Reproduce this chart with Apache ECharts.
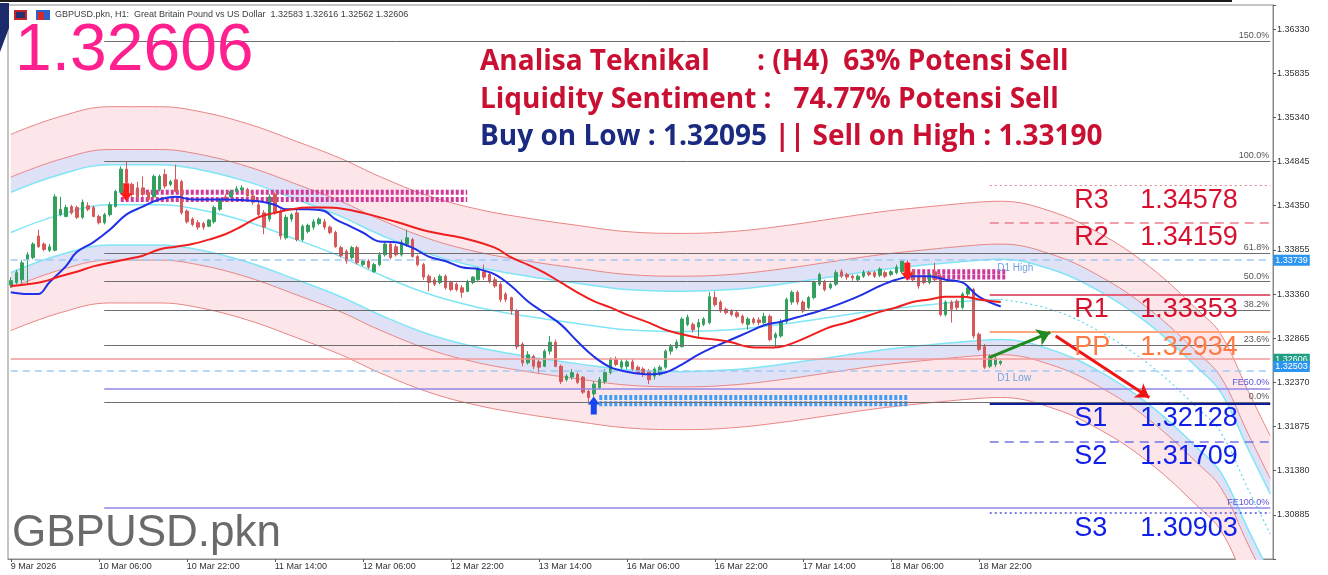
<!DOCTYPE html>
<html>
<head>
<meta charset="utf-8">
<script src="https://cdn.jsdelivr.net/npm/echarts@6/dist/echarts.min.js"></script>
<style>
  html, body { margin: 0; padding: 0; background: #fff; }
  #chart { width: 1328px; height: 575px; }
</style>
</head>
<body>
<div id="chart"></div>
<script>
// H1 candles, bar 0 = 9 Mar 14:00, [open, close, low, high]
var candles = [
  [1.3346,1.3351,1.3343,1.3355],[1.3349,1.3360,1.3347,1.3363],[1.3352,1.3371,1.3348,1.3374],[1.3375,1.3380,1.3347,1.3383],
  [1.3377,1.3392,1.3375,1.3394],[1.3401,1.3389,1.3388,1.3408],[1.3392,1.3386,1.3384,1.3394],[1.3385,1.3389,1.3383,1.3392],
  [1.3385,1.3445,1.3384,1.3448],[1.3425,1.3431,1.3423,1.3445],[1.3423,1.3433,1.3422,1.3436],[1.3434,1.3427,1.3425,1.3436],
  [1.3433,1.3422,1.3420,1.3435],[1.3422,1.3439,1.3420,1.3442],[1.3435,1.3431,1.3429,1.3439],[1.3433,1.3423,1.3422,1.3435],
  [1.3423,1.3416,1.3414,1.3425],[1.3416,1.3425,1.3414,1.3427],[1.3425,1.3436,1.3423,1.3439],[1.3434,1.3451,1.3433,1.3453],
  [1.3450,1.3476,1.3448,1.3479],[1.3476,1.3461,1.3459,1.3485],[1.3459,1.3448,1.3445,1.3461],[1.3455,1.3445,1.3442,1.3462],
  [1.3455,1.3448,1.3445,1.3468],[1.3450,1.3442,1.3441,1.3453],[1.3445,1.3468,1.3444,1.3470],[1.3453,1.3468,1.3451,1.3470],
  [1.3470,1.3457,1.3454,1.3476],[1.3459,1.3462,1.3457,1.3464],[1.3464,1.3451,1.3450,1.3481],[1.3462,1.3427,1.3425,1.3464],
  [1.3429,1.3417,1.3415,1.3431],[1.3420,1.3414,1.3412,1.3422],[1.3416,1.3411,1.3408,1.3419],[1.3415,1.3411,1.3408,1.3417],
  [1.3412,1.3419,1.3411,1.3420],[1.3417,1.3433,1.3415,1.3435],[1.3431,1.3442,1.3429,1.3444],[1.3445,1.3441,1.3439,1.3448],
  [1.3445,1.3451,1.3444,1.3453],[1.3451,1.3454,1.3450,1.3457],[1.3453,1.3455,1.3451,1.3458],[1.3453,1.3446,1.3445,1.3455],
  [1.3446,1.3439,1.3436,1.3448],[1.3436,1.3425,1.3423,1.3439],[1.3427,1.3411,1.3403,1.3430],[1.3420,1.3445,1.3417,1.3448],
  [1.3448,1.3427,1.3425,1.3450],[1.3429,1.3401,1.3397,1.3431],[1.3399,1.3422,1.3397,1.3425],[1.3420,1.3425,1.3417,1.3427],
  [1.3427,1.3397,1.3395,1.3431],[1.3397,1.3412,1.3395,1.3414],[1.3406,1.3413,1.3404,1.3415],[1.3411,1.3417,1.3408,1.3420],
  [1.3415,1.3420,1.3413,1.3422],[1.3417,1.3411,1.3408,1.3420],[1.3411,1.3405,1.3403,1.3413],[1.3405,1.3389,1.3388,1.3407],
  [1.3388,1.3379,1.3377,1.3390],[1.3384,1.3373,1.3370,1.3386],[1.3377,1.3388,1.3375,1.3390],[1.3388,1.3371,1.3369,1.3390],
  [1.3369,1.3373,1.3367,1.3375],[1.3373,1.3366,1.3364,1.3375],[1.3361,1.3369,1.3360,1.3371],[1.3369,1.3380,1.3367,1.3383],
  [1.3380,1.3392,1.3378,1.3394],[1.3392,1.3377,1.3375,1.3394],[1.3389,1.3380,1.3378,1.3392],[1.3380,1.3394,1.3378,1.3397],
  [1.3392,1.3399,1.3389,1.3408],[1.3397,1.3378,1.3377,1.3399],[1.3378,1.3369,1.3367,1.3380],[1.3369,1.3355,1.3352,1.3371],
  [1.3356,1.3349,1.3339,1.3358],[1.3352,1.3347,1.3345,1.3355],[1.3349,1.3356,1.3347,1.3358],[1.3356,1.3343,1.3341,1.3358],
  [1.3349,1.3341,1.3339,1.3351],[1.3347,1.3341,1.3339,1.3349],[1.3343,1.3338,1.3332,1.3346],[1.3339,1.3350,1.3338,1.3352],
  [1.3349,1.3355,1.3347,1.3356],[1.3352,1.3364,1.3351,1.3366],[1.3361,1.3355,1.3352,1.3369],[1.3358,1.3350,1.3348,1.3360],
  [1.3352,1.3345,1.3343,1.3355],[1.3347,1.3330,1.3327,1.3349],[1.3336,1.3330,1.3327,1.3338],[1.3332,1.3317,1.3313,1.3333],
  [1.3317,1.3277,1.3274,1.3319],[1.3280,1.3259,1.3255,1.3282],[1.3259,1.3268,1.3257,1.3272],[1.3266,1.3255,1.3252,1.3268],
  [1.3260,1.3254,1.3248,1.3263],[1.3255,1.3272,1.3254,1.3274],[1.3272,1.3282,1.3268,1.3289],[1.3282,1.3255,1.3254,1.3285],
  [1.3255,1.3238,1.3235,1.3257],[1.3240,1.3244,1.3238,1.3246],[1.3243,1.3248,1.3240,1.3252],[1.3246,1.3237,1.3235,1.3248],
  [1.3243,1.3226,1.3224,1.3244],[1.3227,1.3220,1.3215,1.3229],[1.3224,1.3235,1.3221,1.3238],[1.3231,1.3240,1.3229,1.3243],
  [1.3238,1.3248,1.3235,1.3252],[1.3248,1.3263,1.3246,1.3265],[1.3263,1.3257,1.3255,1.3266],[1.3254,1.3260,1.3252,1.3263],
  [1.3255,1.3260,1.3252,1.3263],[1.3260,1.3252,1.3250,1.3263],[1.3254,1.3248,1.3246,1.3256],[1.3252,1.3246,1.3243,1.3254],
  [1.3250,1.3240,1.3235,1.3252],[1.3244,1.3252,1.3240,1.3254],[1.3246,1.3254,1.3244,1.3256],[1.3254,1.3272,1.3252,1.3274],
  [1.3272,1.3277,1.3268,1.3280],[1.3276,1.3282,1.3274,1.3285],[1.3277,1.3308,1.3276,1.3310],[1.3302,1.3310,1.3300,1.3313],
  [1.3302,1.3296,1.3293,1.3304],[1.3299,1.3304,1.3287,1.3308],[1.3302,1.3308,1.3300,1.3310],[1.3304,1.3333,1.3302,1.3338],
  [1.3332,1.3324,1.3322,1.3339],[1.3327,1.3317,1.3315,1.3329],[1.3319,1.3315,1.3313,1.3321],[1.3317,1.3313,1.3311,1.3319],
  [1.3315,1.3311,1.3309,1.3318],[1.3311,1.3304,1.3302,1.3313],[1.3302,1.3308,1.3296,1.3310],[1.3308,1.3304,1.3302,1.3310],
  [1.3307,1.3304,1.3301,1.3310],[1.3304,1.3311,1.3302,1.3315],[1.3311,1.3285,1.3283,1.3313],[1.3287,1.3291,1.3276,1.3293],
  [1.3289,1.3305,1.3287,1.3308],[1.3305,1.3330,1.3303,1.3332],[1.3327,1.3338,1.3324,1.3340],[1.3338,1.3327,1.3324,1.3340],
  [1.3327,1.3317,1.3315,1.3329],[1.3321,1.3332,1.3319,1.3334],[1.3332,1.3349,1.3330,1.3351],[1.3347,1.3358,1.3345,1.3360],
  [1.3350,1.3341,1.3339,1.3352],[1.3343,1.3347,1.3341,1.3349],[1.3347,1.3360,1.3345,1.3363],[1.3361,1.3356,1.3354,1.3364],
  [1.3358,1.3355,1.3352,1.3360],[1.3356,1.3354,1.3351,1.3358],[1.3352,1.3356,1.3350,1.3358],[1.3356,1.3360,1.3354,1.3363],
  [1.3360,1.3358,1.3356,1.3362],[1.3360,1.3356,1.3354,1.3362],[1.3357,1.3364,1.3355,1.3366],[1.3360,1.3356,1.3354,1.3362],
  [1.3358,1.3361,1.3356,1.3363],[1.3360,1.3366,1.3358,1.3369],[1.3361,1.3373,1.3359,1.3375],[1.3371,1.3358,1.3356,1.3374],
  [1.3361,1.3352,1.3350,1.3364],[1.3356,1.3345,1.3342,1.3358],[1.3356,1.3349,1.3347,1.3358],[1.3349,1.3358,1.3347,1.3360],
  [1.3361,1.3352,1.3350,1.3371],[1.3356,1.3313,1.3311,1.3358],[1.3313,1.3327,1.3311,1.3329],[1.3327,1.3319,1.3304,1.3329],
  [1.3328,1.3321,1.3317,1.3330],[1.3321,1.3336,1.3319,1.3338],[1.3336,1.3343,1.3333,1.3346],[1.3341,1.3289,1.3286,1.3343],
  [1.3291,1.3274,1.3272,1.3293],[1.3277,1.3254,1.3252,1.3280],[1.3255,1.3266,1.3253,1.3268],[1.3257,1.3264,1.3254,1.3267],
  [1.32583,1.32606,1.32562,1.32616]
];
var barCount = 230; // candles + empty shift area on the right

var timeLabels = ['9 Mar 2026', '10 Mar 06:00', '10 Mar 22:00', '11 Mar 14:00', '12 Mar 06:00', '12 Mar 22:00',
                  '13 Mar 14:00', '16 Mar 06:00', '16 Mar 22:00', '17 Mar 14:00', '18 Mar 06:00', '18 Mar 22:00'];
var labelBars = [0, 16, 32, 48, 64, 80, 96, 112, 128, 144, 160, 176];
var priceTicks = ['1.36330', '1.35835', '1.35340', '1.34845', '1.34350', '1.33855', '1.33360',
                  '1.32865', '1.32370', '1.31875', '1.31380', '1.30885'];

// moving averages, [bar, price]
var maFast = [[0,1.3338],[3,1.3336],[5,1.3336],[7,1.3349],[10,1.3367],[12,1.3383],[15,1.3394],[18,1.3408],
  [21,1.3425],[24,1.3434],[27,1.3442],[30,1.3445],[33,1.3442],[39,1.3442],[45,1.3440],[48,1.3436],[50,1.3431],
  [54,1.3431],[57,1.3429],[59,1.3420],[61,1.3414],[64,1.3405],[67,1.3395],[70,1.3394],[73,1.3388],[76,1.3378],
  [79,1.3373],[82,1.3366],[85,1.3364],[88,1.3358],[91,1.3345],[94,1.3328],[97,1.3315],[100,1.3302],[103,1.3283],
  [106,1.3266],[109,1.3254],[112,1.3249],[116,1.3246],[119,1.3248],[122,1.3257],[125,1.3268],[128,1.3277],
  [131,1.3285],[134,1.3293],[137,1.3301],[140,1.3305],[143,1.3310],[146,1.3315],[149,1.3321],[152,1.3328],
  [155,1.3336],[158,1.3345],[161,1.3352],[164,1.3356],[167,1.3356],[170,1.3352],[173,1.3349],[176,1.3333],[180,1.3322]];
var maSlow = [[0,1.3345],[3,1.3347],[6,1.3350],[9,1.3356],[12,1.3361],[15,1.3367],[18,1.3371],[21,1.3375],
  [24,1.3379],[27,1.3386],[30,1.3389],[33,1.3392],[36,1.3397],[39,1.3403],[42,1.3412],[45,1.3422],[48,1.3427],
  [51,1.3431],[54,1.3433],[57,1.3433],[60,1.3432],[64,1.3427],[70,1.3417],[76,1.3406],[82,1.3399],[88,1.3388],
  [91,1.3377],[94,1.3369],[97,1.3360],[100,1.3349],[103,1.3338],[106,1.3328],[109,1.3321],[112,1.3313],[116,1.3304],
  [119,1.3296],[122,1.3291],[125,1.3287],[128,1.3285],[131,1.3282],[134,1.3277],[137,1.3276],[140,1.3277],
  [143,1.3283],[146,1.3291],[149,1.3299],[152,1.3304],[155,1.3310],[158,1.3316],[161,1.3321],[164,1.3327],
  [167,1.3330],[170,1.3333],[173,1.3333],[176,1.3330],[180,1.3327]];

// regression channel middle line and band distances
var channelMid = [[0,1.3405],[9,1.3425],[18,1.3436],[27,1.3436],[34,1.3431],[43,1.3417],[52,1.3397],[60,1.3378],
  [67,1.3358],[76,1.3336],[85,1.3321],[94,1.3311],[103,1.3303],[112,1.3296],[122,1.3294],[131,1.3296],[140,1.3302],
  [149,1.3310],[158,1.3318],[167,1.3324],[176,1.3329],[180,1.3330],[189,1.3319],[198,1.3294],[207,1.3257],
  [216,1.3207],[220,1.3181],[225,1.3117],[229,1.3067]];
var channelCyanOff = 0.0045;
var channelInnerOff = 0.0062;
var channelOuterOff = 0.0110;

var fibLevels = [1.36193, 1.34849, 1.33817, 1.33498, 1.33179, 1.32785, 1.32147];
var fibNames = ['150.0%', '100.0%', '61.8%', '50.0%', '38.2%', '23.6%', '0.0%'];
var feLevels = [1.32303, 1.30959];
var feNames = ['FE50.0%', 'FE100.0%'];
var pivotNames = ['R3', 'R2', 'R1', 'PP', 'S1', 'S2', 'S3'];
var pivotValues = [1.34578, 1.34159, 1.33353, 1.32934, 1.32128, 1.31709, 1.30903];
var d1High = 1.33739;
var d1Low = 1.32503;
var lastPrice = 1.32606;
var askPrice = 1.32640;

var sellZoneA = { from: 20, to: 83, prices: [1.3450, 1.3442] };
var sellZoneB = { from: 163, to: 181, prices: [1.3361, 1.3355] };
var buyZone = { from: 107, to: 163, prices: [1.3220, 1.3213] };
var sellArrows = [[21, 1.3450], [163, 1.3361]];
var buyArrows = [[106, 1.3211]];
var upMove = [[178, 1.3265], [189, 1.3293]];
var downMove = [[190, 1.3289], [207, 1.3220]];

// ---------------------------------------------------------------
var cats = [];
for (var i = 0; i < barCount; i++) cats.push(String(i));

function shifted(points, d) {
  return points.map(function (p) { return [p[0], +(p[1] + d).toFixed(5)]; });
}
function thickness(points, d) {
  return points.map(function (p) { return [p[0], d]; });
}

var PINK = '#fde6e9', LAV = '#dfe1f7', RED_LINE = '#e88585', CYAN = '#7fe6f6';
var FONT = '"Liberation Sans", Arial, sans-serif';
var HEAD = 'bold 28px "Open Sans"';

var series = [];

function band(name, base, h, fill) {
  series.push({ type: 'line', stack: name, data: base, smooth: 0.4, symbol: 'none', silent: true, z: 1,
                lineStyle: { opacity: 0 } });
  series.push({ type: 'line', stack: name, data: thickness(base, h), smooth: 0.4, symbol: 'none', silent: true, z: 1,
                lineStyle: { opacity: 0 }, areaStyle: { color: fill, opacity: 1 } });
}
function curve(data, color, w, type, z) {
  series.push({ type: 'line', data: data, smooth: 0.4, symbol: 'none', silent: true, z: z || 2,
                lineStyle: { color: color, width: w, type: type || 'solid' } });
}

// channel fills
band('upPink', shifted(channelMid, channelInnerOff), channelOuterOff - channelInnerOff, PINK);
band('upLav', shifted(channelMid, channelCyanOff), channelInnerOff - channelCyanOff, LAV);
band('loLav', shifted(channelMid, -channelInnerOff), channelInnerOff - channelCyanOff, LAV);
band('loPink', shifted(channelMid, -channelOuterOff), channelOuterOff - channelInnerOff, PINK);
// channel lines
curve(shifted(channelMid, channelOuterOff), RED_LINE, 1);
curve(shifted(channelMid, channelInnerOff), RED_LINE, 1);
curve(shifted(channelMid, channelCyanOff), CYAN, 1.5);
curve(shifted(channelMid, -channelCyanOff), CYAN, 1.5);
curve(shifted(channelMid, -channelInnerOff), RED_LINE, 1);
curve(shifted(channelMid, -channelOuterOff), RED_LINE, 1);
curve(channelMid.filter(function (p) { return p[0] <= 180; }), CYAN, 1.5);
curve(channelMid.filter(function (p) { return p[0] >= 180; }), '#5fd8ee', 1.2, [2, 3]);

// horizontal levels
var levelLines = [];
fibLevels.forEach(function (v, k) {
  levelLines.push([{ coord: [17, v], lineStyle: { color: '#6e6e6e', width: 1, type: 'solid' },
                     label: { show: true, position: 'insideEndTop', formatter: fibNames[k], color: '#555',
                              fontSize: 9, fontFamily: FONT, distance: 1 } },
                   { coord: [barCount - 1, v] }]);
});
feLevels.forEach(function (v, k) {
  levelLines.push([{ coord: [17, v], lineStyle: { color: '#8f87e6', width: 1.5, type: 'solid' },
                     label: { show: true, position: 'insideEndTop', formatter: feNames[k], color: '#5b55d8',
                              fontSize: 9, fontFamily: FONT, distance: 1 } },
                   { coord: [barCount - 1, v] }]);
});
levelLines.push([{ coord: [0, askPrice], lineStyle: { color: '#f29a9a', width: 1.5, type: 'solid' } },
                 { coord: [barCount - 1, askPrice] }]);
levelLines.push([{ coord: [0, d1High], lineStyle: { color: '#9fcaf4', width: 1.5, type: [7, 5] },
                   label: { show: true, position: 'end', formatter: d1High.toFixed(5), color: '#fff',
                            backgroundColor: '#2b95f0', padding: [1, 2], fontSize: 9, fontFamily: FONT, distance: 3 } },
                 { coord: [barCount - 1, d1High] }]);
levelLines.push([{ coord: [0, lastPrice], lineStyle: { color: 'rgba(0,0,0,0)', width: 1 },
                   label: { show: true, position: 'end', formatter: lastPrice.toFixed(5), color: '#fff',
                            backgroundColor: '#1f9e84', padding: [1, 2], fontSize: 9, fontFamily: FONT, distance: 3,
                            offset: [0, -2] } },
                 { coord: [barCount - 1, lastPrice] }]);
levelLines.push([{ coord: [0, d1Low], lineStyle: { color: '#9fcaf4', width: 1.5, type: [7, 5] },
                   label: { show: true, position: 'end', formatter: d1Low.toFixed(5), color: '#fff',
                            backgroundColor: '#2b95f0', padding: [1, 2], fontSize: 9, fontFamily: FONT, distance: 3,
                            offset: [0, -4] } },
                 { coord: [barCount - 1, d1Low] }]);

var pivotStyles = [
  { color: '#ea7f8f', width: 1.2, type: [2, 3] },
  { color: '#ea7f8f', width: 1.5, type: [9, 6] },
  { color: '#e2627a', width: 2, type: 'solid' },
  { color: '#ffa37a', width: 2, type: 'solid' },
  { color: '#0c1a9c', width: 2, type: 'solid' },
  { color: '#7373e6', width: 1.5, type: [9, 6] },
  { color: '#5050e6', width: 1.5, type: [2, 3] }
];
var pivotColors = ['#d8102f', '#d8102f', '#d8102f', '#ff7a45', '#1020e8', '#1020e8', '#1020e8'];
pivotValues.forEach(function (v, k) {
  levelLines.push([{ coord: [178, v], lineStyle: pivotStyles[k] }, { coord: [barCount - 1, v] }]);
});

series.push({
  type: 'line', data: [], silent: true, z: 2,
  markLine: { symbol: 'none', silent: true, animation: false, data: levelLines }
});

// zones
function zone(z, color) {
  z.prices.forEach(function (p) {
    series.push({ type: 'line', data: [[z.from, p], [z.to, p]], symbol: 'none', silent: true, z: 3,
                  lineStyle: { color: color, width: 5, type: [3, 2] } });
  });
}
zone(sellZoneA, '#cf3a9a');
zone(sellZoneB, '#cf3a9a');
zone(buyZone, '#3f9df5');

// candles
series.push({
  type: 'candlestick', data: candles, z: 4, barWidth: 3,
  itemStyle: { color: '#33a05e', color0: '#d65858', borderColor: '#33a05e', borderColor0: '#d65858', borderWidth: 1 }
});

// moving averages
curve(maFast, '#1f30e6', 2, 'solid', 5);
curve(maSlow, '#f01e1e', 2, 'solid', 5);

// signal arrows
series.push({ type: 'scatter', data: sellArrows, z: 6, silent: true,
  symbol: 'path://M3,0 H9 V10 H12 L6,18 L0,10 H3 Z', symbolSize: [12, 18], itemStyle: { color: '#ff1a1a', opacity: 1 } });
series.push({ type: 'scatter', data: buyArrows, z: 6, silent: true,
  symbol: 'path://M6,0 L12,8 H9 V18 H3 V8 H0 Z', symbolSize: [12, 18], itemStyle: { color: '#1646f0', opacity: 1 } });

// forecast arrows
series.push({
  type: 'line', data: [], silent: true, z: 6,
  markLine: { silent: true, animation: false, symbol: ['none', 'arrow'], symbolSize: 13,
    data: [
      [{ coord: upMove[0], lineStyle: { color: '#1f8a1f', width: 3, type: 'solid' } }, { coord: upMove[1] }],
      [{ coord: downMove[0], lineStyle: { color: '#f01515', width: 3, type: 'solid' } }, { coord: downMove[1] }]
    ] }
});

// pivot and D1 texts
var texts = [];
pivotValues.forEach(function (v, k) {
  texts.push({ value: [193, v], label: { formatter: pivotNames[k], color: pivotColors[k] } });
  texts.push({ value: [205, v], label: { formatter: v.toFixed(5), color: pivotColors[k] } });
});
series.push({
  type: 'scatter', data: texts, symbolSize: 0, silent: true, z: 7, itemStyle: { opacity: 1 },
  label: { show: true, position: 'right', distance: 2, offset: [0, 15], fontSize: 27, fontFamily: FONT,
           opacity: 1, textBorderWidth: 0 }
});
series.push({
  type: 'scatter', silent: true, z: 7, symbolSize: 0, itemStyle: { opacity: 1 },
  data: [
    { value: [179, d1High], label: { formatter: 'D1 High' } },
    { value: [179, d1Low], label: { formatter: 'D1 Low' } }
  ],
  label: { show: true, position: 'right', distance: 2, offset: [0, 8], fontSize: 10, color: '#6ea3e0', fontFamily: FONT }
});

var option = {
  animation: false,
  backgroundColor: '#ffffff',
  grid: { left: 8, right: 55, top: 5, bottom: 16, show: true, borderColor: '#8a8a8a', borderWidth: 1 },
  xAxis: {
    type: 'category', data: cats, boundaryGap: true,
    axisLine: { show: true, lineStyle: { color: '#8a8a8a' } },
    axisTick: { show: true, alignWithLabel: true, length: 3, lineStyle: { color: '#555' },
                interval: function (idx) { return labelBars.indexOf(idx) >= 0; } },
    axisLabel: { show: true, fontSize: 9, color: '#333', fontFamily: FONT, margin: 3, align: 'left',
                 interval: function (idx) { return labelBars.indexOf(idx) >= 0; },
                 formatter: function (val, idx) { var k = labelBars.indexOf(idx); return k >= 0 ? timeLabels[k] : ''; } },
    splitLine: { show: false }
  },
  yAxis: {
    type: 'value', position: 'right', min: 1.30390, max: 1.36600, interval: 0.00495,
    axisLine: { show: true, lineStyle: { color: '#8a8a8a' } },
    axisTick: { show: true, length: 3, lineStyle: { color: '#555' } },
    axisLabel: { fontSize: 9, color: '#333', fontFamily: FONT, margin: 4,
                 formatter: function (v) { var s = v.toFixed(5); return priceTicks.indexOf(s) >= 0 ? s : ''; } },
    splitLine: { show: false }
  },
  series: series,
  graphic: [
    { type: 'rect', shape: { x: 0, y: 0, width: 1232, height: 2 }, style: { fill: '#1c1c1c' }, z: 100 },
    { type: 'polygon', shape: { points: [[0, 3], [9, 3], [9, 28], [0, 52]] }, style: { fill: '#1b2a6b' }, z: 100 },
    { type: 'rect', shape: { x: 14, y: 10, width: 13, height: 10 }, style: { fill: '#c0262c' }, z: 100 },
    { type: 'rect', shape: { x: 16, y: 12, width: 9, height: 6 }, style: { fill: '#27306e' }, z: 101 },
    { type: 'rect', shape: { x: 36, y: 10, width: 14, height: 10 }, style: { fill: '#2a62c9' }, z: 100 },
    { type: 'rect', shape: { x: 38, y: 12, width: 6, height: 8 }, style: { fill: '#d52a2a' }, z: 101 },
    { type: 'text', x: 55, y: 15, z: 100, style: { text: 'GBPUSD.pkn, H1:  Great Britain Pound vs US Dollar  1.32583 1.32616 1.32562 1.32606',
      font: '9px ' + FONT, fill: '#3c3c3c', verticalAlign: 'middle' } },
    { type: 'text', x: 15, y: 52, z: 100, style: { text: '1.32606', font: '66px ' + FONT, fill: '#ff1f8e', verticalAlign: 'middle' } },
    { type: 'text', x: 12, y: 534, z: 100, style: { text: 'GBPUSD.pkn', font: '44px ' + FONT, fill: '#6a6a6a', verticalAlign: 'middle' } },
    { type: 'text', x: 480, y: 62, z: 100, style: { text: 'Analisa Teknikal', font: HEAD, fill: '#c90f32', verticalAlign: 'middle' } },
    { type: 'text', x: 757, y: 62, z: 100, style: { text: ': (H4)  63% Potensi Sell', font: HEAD, fill: '#c90f32', verticalAlign: 'middle' } },
    { type: 'text', x: 480, y: 100, z: 100, style: { text: 'Liquidity Sentiment :   74.77% Potensi Sell', font: HEAD, fill: '#c90f32', verticalAlign: 'middle' } },
    { type: 'text', x: 480, y: 137, z: 100, style: {
      text: '{n|Buy on Low : 1.32095 }{r||| Sell on High : 1.33190}', verticalAlign: 'middle',
      rich: { n: { font: HEAD, fill: '#1a2a80' }, r: { font: HEAD, fill: '#c90f32' } } } }
  ]
};

var chart = echarts.init(document.getElementById('chart'));
chart.setOption(option);
</script>
</body>
</html>
